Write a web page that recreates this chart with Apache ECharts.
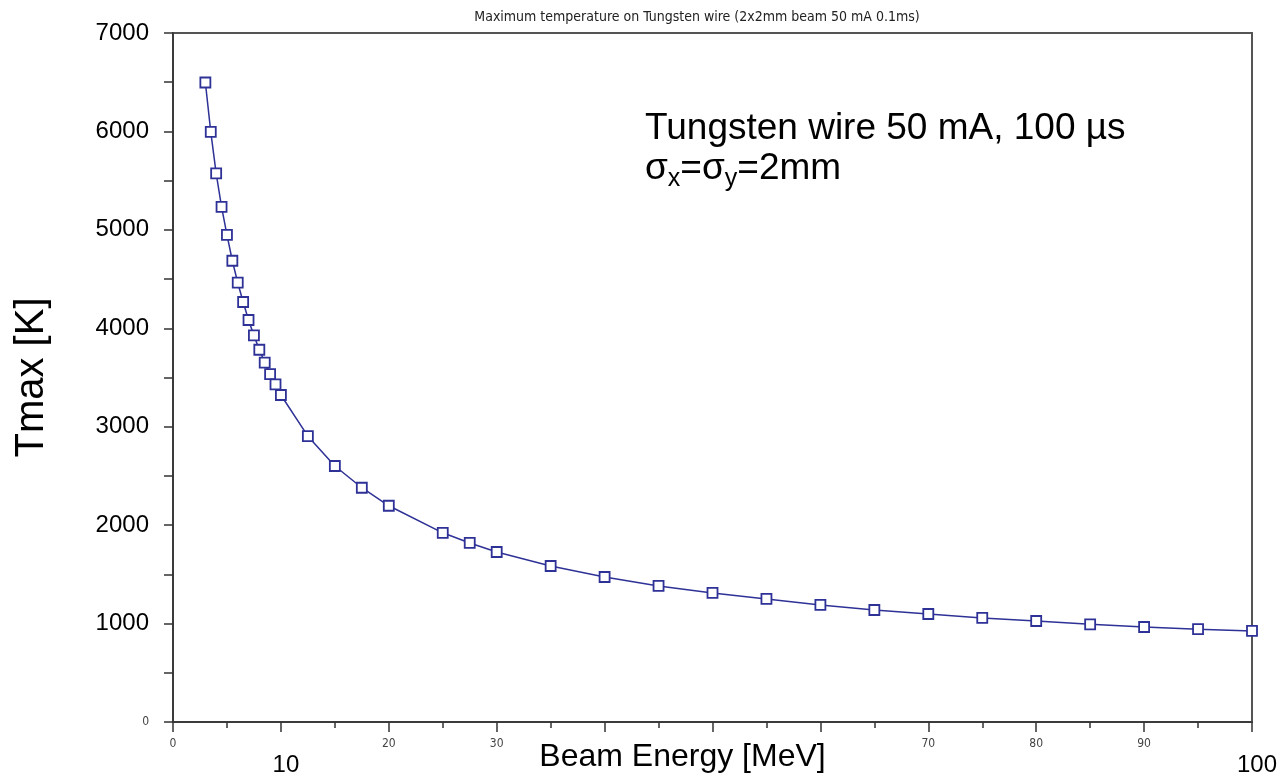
<!DOCTYPE html>
<html>
<head>
<meta charset="utf-8">
<script src="https://cdn.jsdelivr.net/npm/echarts@6/dist/echarts.min.js"></script>
<style>
html,body{margin:0;padding:0;background:#fff;}
#chart{width:1285px;height:778px;}
</style>
</head>
<body>
<div id="chart"></div>
<script>
// Beam energy [MeV]
const energy = [3, 3.5, 4, 4.5, 5, 5.5, 6, 6.5, 7, 7.5, 8, 8.5, 9, 9.5, 10,
  12.5, 15, 17.5, 20, 25, 27.5, 30, 35, 40, 45, 50, 55, 60, 65, 70, 75, 80, 85, 90, 95, 100];
// Maximum temperature [K]
const tmax = [6497, 5996, 5574, 5233, 4950, 4686, 4463, 4267, 4084, 3927, 3782, 3652, 3534, 3431, 3322,
  2904, 2601, 2380, 2197, 1922, 1819, 1727, 1585, 1473, 1382, 1311, 1250, 1189, 1138, 1097, 1057, 1026, 992, 965, 943, 925];
const bigXLabels = [10, 100];
const hiddenXLabels = [40, 50, 60];
const titleText = 'Maximum temperature on Tungsten wire (2x2mm beam 50 mA 0.1ms)';
const noteLine1 = 'Tungsten wire 50 mA, 100 µs';

const chart = echarts.init(document.getElementById('chart'));
const font = '"Liberation Sans", Arial, Helvetica, sans-serif';
const axisColor = '#333';
const lineColor = '#2e3196';

chart.setOption({
  backgroundColor: '#fff',
  animation: false,
  title: {
    text: titleText,
    left: 692, top: 5,
    textAlign: 'center',
    textStyle: { fontFamily: '"Liberation Sans Narrow", "DejaVu Sans Condensed", "Liberation Sans", sans-serif', fontSize: 14, fontWeight: 'normal', color: '#222' }
  },
  grid: { left: 173, right: 33, top: 33, bottom: 56, containLabel: false, outerBoundsMode: 'none', show: true, borderColor: '#555', borderWidth: 2, backgroundColor: '#fff' },
  xAxis: {
    type: 'value', min: 0, max: 100, interval: 10,
    name: 'Beam Energy [MeV]', nameLocation: 'middle', nameGap: 19, nameMoveOverlap: false,
    nameTextStyle: { fontFamily: font, fontSize: 32, color: '#000', padding: [0, 60, 0, 0] },
    axisLine: { lineStyle: { color: axisColor, width: 1.5 } },
    axisTick: { show: true, length: 10, inside: false, lineStyle: { color: axisColor, width: 1.5 } },
    minorTick: { show: true, splitNumber: 2, length: 6, lineStyle: { color: axisColor, width: 1.5 } },
    splitLine: { show: false },
    axisLabel: {
      margin: 16, showMaxLabel: true, showMinLabel: true,
      formatter: function (v) {
        if (bigXLabels.indexOf(v) >= 0) return '{b|' + v + '}';
        if (hiddenXLabels.indexOf(v) >= 0) return '';
        return '{s|' + v + '}';
      },
      rich: {
        s: { fontFamily: '"Liberation Sans Narrow", "DejaVu Sans Condensed", sans-serif', fontSize: 12, color: '#444' },
        b: { fontFamily: font, fontSize: 24, color: '#000', padding: [15, 0, 0, 10] }
      }
    }
  },
  yAxis: {
    type: 'value', min: 0, max: 7000, interval: 500,
    name: 'Tmax [K]', nameLocation: 'middle', nameGap: 121, nameMoveOverlap: false,
    nameTextStyle: { fontFamily: font, fontSize: 40, color: '#000' },
    axisLine: { show: true, lineStyle: { color: axisColor, width: 1.5 } },
    axisTick: { show: true, length: 9, lineStyle: { color: axisColor, width: 1.5 } },
    splitLine: { show: false },
    axisLabel: {
      margin: 24,
      formatter: function (v) {
        if (v === 0) return '{s|0}';
        if (v % 1000 !== 0) return '';
        return '{b|' + v + '}';
      },
      rich: {
        s: { fontFamily: '"Liberation Sans Narrow", "DejaVu Sans Condensed", sans-serif', fontSize: 12, color: '#444' },
        b: { fontFamily: font, fontSize: 24, color: '#000' }
      }
    }
  },
  graphic: [{
    type: 'text', left: 645, top: 109, z: 10,
    style: {
      text: noteLine1 + '\n{n|σ}{sub|x}{n|=σ}{sub|y}{n|=2mm}',
      font: '37px "Liberation Sans", Arial, sans-serif',
      fill: '#000',
      lineHeight: 40,
      rich: {
        n: { fontSize: 37, fontFamily: font, fill: '#000', lineHeight: 40 },
        sub: { fontSize: 25, fontFamily: font, fill: '#000', lineHeight: 40, padding: [20, 0, 0, 0] }
      }
    }
  }],
  series: [{
    type: 'line',
    data: energy.map((e, i) => [e, tmax[i]]),
    symbol: 'rect', symbolSize: 10,
    lineStyle: { color: lineColor, width: 1.5 },
    itemStyle: { color: '#fff', borderColor: lineColor, borderWidth: 1.8 },
    clip: false
  }]
});
</script>
</body>
</html>
